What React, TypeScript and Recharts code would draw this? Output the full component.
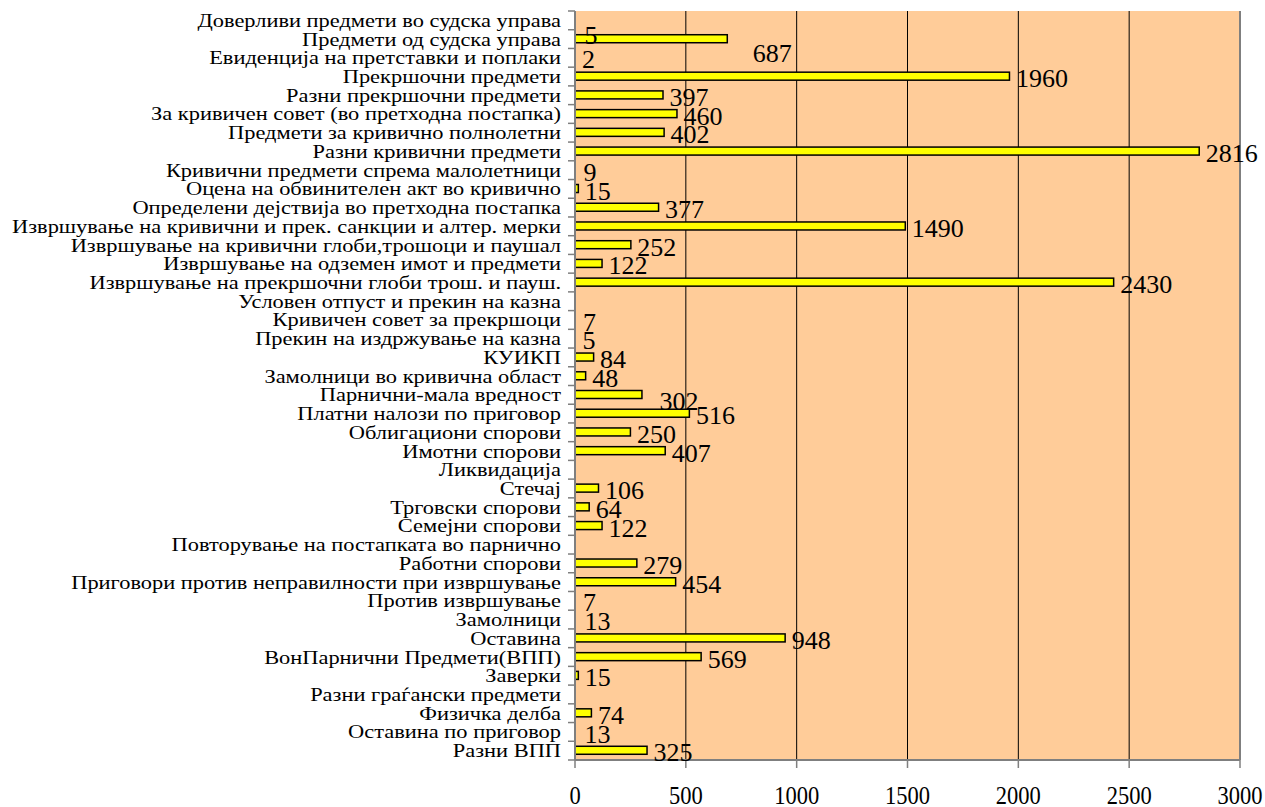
import React from 'react';
import { BarChart, Bar, XAxis, YAxis, CartesianGrid, LabelList, ReferenceLine } from 'recharts';

const categories: string[] = [
  'Доверливи предмети во судска управа',
  'Предмети од  судска управа',
  'Евиденција на претставки и поплаки',
  'Прекршочни предмети',
  'Разни прекршочни предмети',
  'За кривичен совет (во претходна постапка)',
  'Предмети за кривично полнолетни',
  'Разни кривични предмети',
  'Кривични предмети спрема малолетници',
  'Оцена на обвинителен акт во кривично',
  'Определени дејствија во претходна постапка',
  'Извршување на кривични и прек. санкции и алтер. мерки',
  'Извршување на кривични глоби,трошоци и паушал',
  'Извршување на одземен имот и предмети',
  'Извршување на прекршочни глоби трош. и пауш.',
  'Условен отпуст и прекин на казна',
  'Кривичен совет за прекршоци',
  'Прекин на издржување на казна',
  'КУИКП',
  'Замолници во кривична област',
  'Парнични-мала вредност',
  'Платни налози по приговор',
  'Облигациони спорови',
  'Имотни спорови',
  'Ликвидација',
  'Стечај',
  'Трговски спорови',
  'Семејни спорови',
  'Повторување на постапката во парнично',
  'Работни спорови',
  'Приговори против  неправилности при извршување',
  'Против  извршување',
  'Замолници',
  'Оставина',
  'ВонПарнични Предмети(ВПП)',
  'Заверки',
  'Разни граѓански предмети',
  'Физичка делба',
  'Оставина по приговор',
  'Разни ВПП',
];

const values: (number | null)[] = [
  5, 687, 2, 1960, 397, 460, 402, 2816, 9, 15,
  377, 1490, 252, 122, 2430, null, 7, 5, 84, 48,
  302, 516, 250, 407, null, 106, 64, 122, null, 279,
  454, 7, 13, 948, 569, 15, null, 74, 13, 325,
];

const xTicks: number[] = [0, 500, 1000, 1500, 2000, 2500, 3000];

const data = categories.map((name, i) => ({ name, value: values[i] }));

const FONT = 'Liberation Serif, Times New Roman, serif';
const AXIS_GRAY = '#7f7f7f';

// nudges of a few value labels (by category position), as placed in the original picture
const labelNudge: Record<number, [number, number]> = {
  0: [2, 13],
  1: [19, 12],
  20: [11, 4],
};

const CategoryTick = (props: any) => {
  const { x, y, payload, index, visibleTicksCount, height } = props;
  const band = height / visibleTicksCount;
  return (
    <g>
      {index === 0 && (
        <line x1={x - 7} x2={x} y1={y - band / 2} y2={y - band / 2} stroke={AXIS_GRAY} strokeWidth={1.5} />
      )}
      <line x1={x - 7} x2={x} y1={y + band / 2} y2={y + band / 2} stroke={AXIS_GRAY} strokeWidth={1.5} />
      <text
        transform={`translate(${x - 14},${y + 6.5}) scale(1.18,1)`}
        textAnchor="end"
        fontFamily={FONT}
        fontSize={19}
        fill="#000"
      >
        {payload.value}
      </text>
    </g>
  );
};

const ValueTick = (props: any) => {
  const { x, y, payload } = props;
  return (
    <text
      transform={`translate(${x},${y + 36}) scale(0.9,1)`}
      textAnchor="middle"
      fontFamily={FONT}
      fontSize={25}
      fill="#000"
    >
      {payload.value}
    </text>
  );
};

const BarShape = (props: any) => {
  const { x, y, width, height } = props;
  if (!width || width < 3) return null;
  return <rect x={x} y={y} width={width} height={height} fill="#FFFF00" stroke="#000" strokeWidth={1.5} />;
};

const ValueLabel = (props: any) => {
  const { x, y, width, height, value } = props;
  const ci = categories.indexOf(value);
  if (ci < 0) return null;
  const v = values[ci];
  if (v === null || v === undefined) return null;
  const [dx, dy] = labelNudge[ci] ?? [0, 0];
  return (
    <text
      x={x + width + 6.5 + dx}
      y={y + height / 2 + 11 + dy}
      fontFamily={FONT}
      fontSize={26}
      fill="#000"
    >
      {v}
    </text>
  );
};

export default function App() {
  return (
    <div style={{ position: 'absolute', left: 0, top: 0, width: 1265, height: 807, background: '#fff' }}>
      <BarChart
        width={1265}
        height={807}
        data={data}
        layout="vertical"
        margin={{ top: 11, right: 25, bottom: 0, left: 0 }}
        barCategoryGap={0}
      >
        <CartesianGrid horizontal={false} vertical={true} stroke="#000" strokeWidth={1} fill="#FFCC99" fillOpacity={1} />
        <XAxis
          type="number"
          domain={[0, 3000]}
          ticks={xTicks}
          interval={0}
          height={47}
          tickSize={8}
          tickMargin={0}
          axisLine={{ stroke: AXIS_GRAY, strokeWidth: 2 }}
          tickLine={{ stroke: AXIS_GRAY, strokeWidth: 1.5 }}
          tick={<ValueTick />}
        />
        <XAxis
          xAxisId="top"
          orientation="top"
          type="number"
          domain={[0, 3000]}
          height={0}
          tick={false}
          tickLine={false}
          axisLine={{ stroke: AXIS_GRAY, strokeWidth: 2 }}
        />
        <YAxis
          type="category"
          dataKey="name"
          width={575}
          interval={0}
          tickSize={0}
          tickMargin={0}
          tickLine={false}
          axisLine={{ stroke: AXIS_GRAY, strokeWidth: 2 }}
          tick={<CategoryTick />}
        />
        <ReferenceLine x={3000} stroke={AXIS_GRAY} strokeWidth={2} />
        <Bar dataKey="value" barSize={8} isAnimationActive={false} shape={<BarShape />}>
          <LabelList dataKey="name" content={<ValueLabel />} />
        </Bar>
      </BarChart>
    </div>
  );
}
